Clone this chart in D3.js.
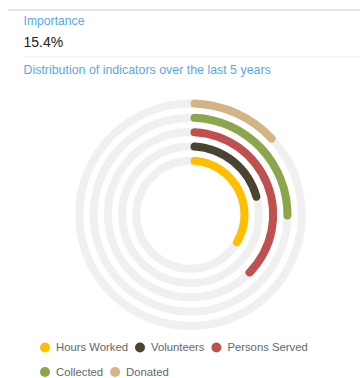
<!DOCTYPE html>
<html>
<head>
<meta charset="utf-8">
<script src="https://cdn.jsdelivr.net/npm/d3@7/dist/d3.min.js"></script>
<style>
  html, body { margin: 0; padding: 0; background: #fff; }
  svg { display: block; font-family: "Liberation Sans", Arial, Helvetica, sans-serif; }
</style>
</head>
<body>
<svg id="chart" width="360" height="378"></svg>
<script>
// Indicators, innermost ring first
const categories = ["Hours Worked", "Volunteers", "Persons Served", "Collected", "Donated"];
// Share of a full turn for each ring, in percent
const values = [34.7, 21.7, 38.1, 25.8, 13.6];
const colors = ["#ffbf00", "#4b4332", "#c0504d", "#8ba64b", "#d3b585"];

const headerLabel = "Importance";
const headerValue = "15.4%";
const subtitle = "Distribution of indicators over the last 5 years";

const svg = d3.select("#chart");
const W = 360;

// Header block
svg.append("line").attr("x1", 8).attr("x2", W).attr("y1", 10).attr("y2", 10)
  .attr("stroke", "#e6e6ea").attr("stroke-width", 2);
svg.append("text").attr("x", 23.5).attr("y", 25).attr("fill", "#5aa8e3")
  .attr("font-size", 12.2).text(headerLabel);
svg.append("text").attr("x", 23.5).attr("y", 47).attr("fill", "#222")
  .attr("font-size", 14).text(headerValue);
svg.append("line").attr("x1", 23).attr("x2", W).attr("y1", 57).attr("y2", 57)
  .attr("stroke", "#ececec").attr("stroke-width", 1);
svg.append("text").attr("x", 23.5).attr("y", 74).attr("fill", "#5aa8e3")
  .attr("font-size", 12.4).text(subtitle);

// Concentric progress rings
const cx = 190.5, cy = 214.7;
const ringWidth = 8;
const radius = d3.scalePoint().domain(categories).range([54, 111.3]);
const angle = d3.scaleLinear().domain([0, 100]).range([0, 2 * Math.PI]);

const g = svg.append("g").attr("transform", `translate(${cx},${cy})`);
const arc = d3.arc()
  .innerRadius(d => radius(d.name) - ringWidth / 2)
  .outerRadius(d => radius(d.name) + ringWidth / 2)
  .cornerRadius(ringWidth / 2)
  .startAngle(0)
  .endAngle(d => angle(d.value));

const data = categories.map((name, i) => ({ name, value: values[i], color: colors[i] }));

g.selectAll("circle.track").data(data).join("circle")
  .attr("class", "track")
  .attr("r", d => radius(d.name))
  .attr("fill", "none")
  .attr("stroke", "#f0f0f0")
  .attr("stroke-width", ringWidth);

g.selectAll("path.bar").data(data).join("path")
  .attr("class", "bar")
  .attr("d", arc)
  .attr("fill", d => d.color);

// Legend, wrapped into rows
const legend = svg.append("g").attr("font-size", 11.3).attr("fill", "#666");
let lx = 45, ly = 347.5;
const maxX = 340, dotR = 5;
data.forEach(d => {
  const item = legend.append("g");
  item.append("circle").attr("r", dotR).attr("fill", d.color);
  const t = item.append("text").attr("x", 11).attr("dy", "0.35em").text(d.name);
  const w = t.node().getComputedTextLength();
  if (lx + 11 + w > maxX) { lx = 45; ly += 24.5; }
  item.attr("transform", `translate(${lx},${ly})`);
  lx += 11 + w + 12;
});
</script>
</body>
</html>
